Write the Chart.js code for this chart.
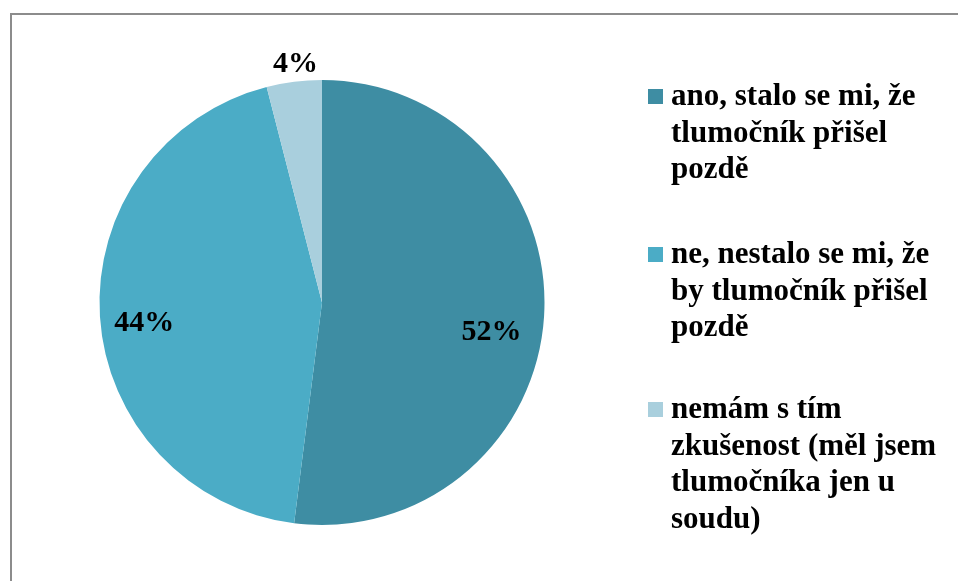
<!DOCTYPE html>
<html>
<head>
<meta charset="utf-8">
<script src="https://cdn.jsdelivr.net/npm/chart.js@4/dist/chart.umd.min.js"></script>
<style>
  html, body { margin: 0; padding: 0; background: #fff; }
  #wrap { width: 958px; height: 581px; position: relative; }
</style>
</head>
<body>
<div id="wrap"><canvas id="myChart" width="958" height="581"></canvas></div>
<script>
// data
var categories = [
    ['ano, stalo se mi, že', 'tlumočník přišel', 'pozdě'],
    ['ne, nestalo se mi, že', 'by tlumočník přišel', 'pozdě'],
    ['nemám s tím', 'zkušenost (měl jsem', 'tlumočníka jen u', 'soudu)']
];
var values = [52, 44, 4];
var percentLabels = ['52%', '44%', '4%'];
var colors = ['#3E8DA3', '#4BACC6', '#A9CFDD'];

var legendFont = 'bold 31px "Liberation Serif", "DejaVu Serif", serif';
var pctFont = 'bold 30px "Liberation Serif", "DejaVu Serif", serif';

// grey frame round the chart (runs off right and bottom like the original)
var framePlugin = {
    id: 'frame',
    beforeDraw: function(chart) {
        var ctx = chart.ctx;
        ctx.save();
        ctx.strokeStyle = '#8c8c8c';
        ctx.lineWidth = 2;
        ctx.beginPath();
        ctx.moveTo(11, 600);
        ctx.lineTo(11, 14);
        ctx.lineTo(970, 14);
        ctx.stroke();
        ctx.restore();
    }
};

// percentage labels placed along each slice's middle angle
var pctPlugin = {
    id: 'pct',
    afterDatasetsDraw: function(chart) {
        var ctx = chart.ctx;
        var meta = chart.getDatasetMeta(0);
        var factors = [0.75, 0.80, 1.09];
        var dy = [19, 10, 2];
        var dx = [3, 0, 4];
        ctx.save();
        ctx.font = pctFont;
        ctx.fillStyle = '#000';
        ctx.textAlign = 'center';
        ctx.textBaseline = 'middle';
        meta.data.forEach(function(arc, i) {
            var mid = (arc.startAngle + arc.endAngle) / 2;
            var r = arc.outerRadius * factors[i];
            var x = arc.x + Math.cos(mid) * r + dx[i];
            var y = arc.y + Math.sin(mid) * r + dy[i];
            ctx.fillText(percentLabels[i], x, y);
        });
        ctx.restore();
    }
};

// legend with wrapped lines on the right
var legendPlugin = {
    id: 'wrapLegend',
    afterDraw: function(chart) {
        var ctx = chart.ctx;
        var startY = [97, 255, 410];
        var lineH = 36.5;
        ctx.save();
        ctx.font = legendFont;
        ctx.textBaseline = 'middle';
        categories.forEach(function(lines, i) {
            ctx.fillStyle = colors[i];
            ctx.fillRect(648, startY[i] - 8, 15, 15);
            ctx.fillStyle = '#000';
            lines.forEach(function(txt, j) {
                ctx.fillText(txt, 671, startY[i] + j * lineH);
            });
        });
        ctx.restore();
    }
};

var ctx = document.getElementById('myChart').getContext('2d');
var myChart = new Chart(ctx, {
    type: 'pie',
    data: {
        labels: categories.map(function(l) { return l.join(' '); }),
        datasets: [{
            data: values,
            backgroundColor: colors,
            borderWidth: 0
        }]
    },
    options: {
        responsive: false,
        animation: false,
        layout: {
            padding: { left: 99, right: 413, top: 80, bottom: 56 }
        },
        plugins: {
            legend: { display: false },
            tooltip: { enabled: false }
        }
    },
    plugins: [framePlugin, pctPlugin, legendPlugin]
});
</script>
</body>
</html>
